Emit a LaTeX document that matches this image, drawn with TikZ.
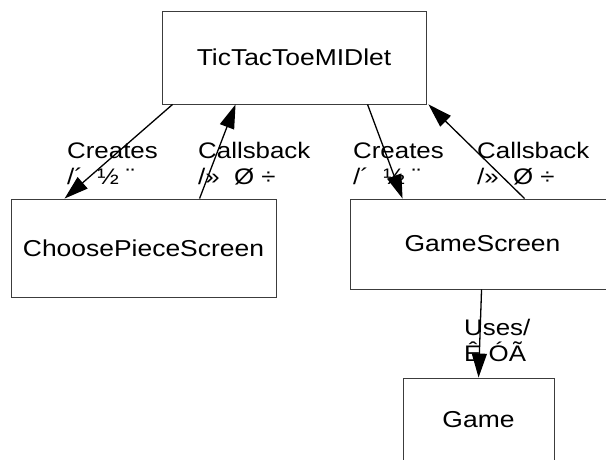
\documentclass[tikz,border=0pt]{standalone}
\usepackage{fontspec}
\setmainfont{Liberation Sans}[FakeStretch=1.15]
\usetikzlibrary{arrows.meta,positioning,calc}
\definecolor{BoxLine}{HTML}{3C3C3C}
\tikzset{
  classbox/.style={draw=BoxLine, line width=0.9pt, fill=white, inner sep=0pt,
                   font=\fontsize{23}{26}\selectfont, align=center},
  arrow/.style={-{Triangle[length=24pt,width=15pt]}, line width=1.3pt, black},
  edgelab/.style={font=\fontsize{22.5}{26}\selectfont, align=left, inner sep=0pt,
                  anchor=base west},
}
\begin{document}
\begin{tikzpicture}[x=1pt,y=-1pt]

  \useasboundingbox (0,0) rectangle (606,460);

  % ---- Classes ----
  \node[classbox, minimum width=264pt, minimum height=93pt] (midlet)  at (294,57.5)  {TicTacToeMIDlet};
  \node[classbox, minimum width=265pt, minimum height=98pt] (choose)  at (143.5,248) {ChoosePieceScreen};
  \node[classbox, minimum width=265pt, minimum height=90pt] (gscreen) at (482.5,244) {GameScreen};
  \node[classbox, minimum width=151pt, minimum height=84pt] (game)    at (478.5,420) {Game};

  % ---- Edge labels (base = last line) ----
  \node[edgelab] (crLlab)   at (67,185)  {Creates\\/´~~½~¨};
  \node[edgelab] (cbLlab)   at (198,185) {Callsback\\/»~~Ø~÷};
  \node[edgelab] (crRlab)   at (353,185) {Creates\\/´~~½~¨};
  \node[edgelab] (cbRlab)   at (477,185) {Callsback\\/»~~Ø~÷};
  \node[edgelab] (useslab)  at (464,361) {Uses/\\Ê~ÓÃ};

  % ---- Arrows ----
  \draw[arrow] ([xshift=11pt]midlet.south west)   -- ([xshift=54pt]choose.north west);
  \draw[arrow] ([xshift=189pt]choose.north west)  -- ([xshift=74pt]midlet.south west);
  \draw[arrow] ([xshift=206pt]midlet.south west)  -- ([xshift=53pt]gscreen.north west);
  \draw[arrow] ([xshift=175pt]gscreen.north west) -- ([xshift=2pt]midlet.south east);
  \draw[arrow] ([xshift=132pt]gscreen.south west) -- ([xshift=76pt]game.north west);

\end{tikzpicture}
\end{document}
